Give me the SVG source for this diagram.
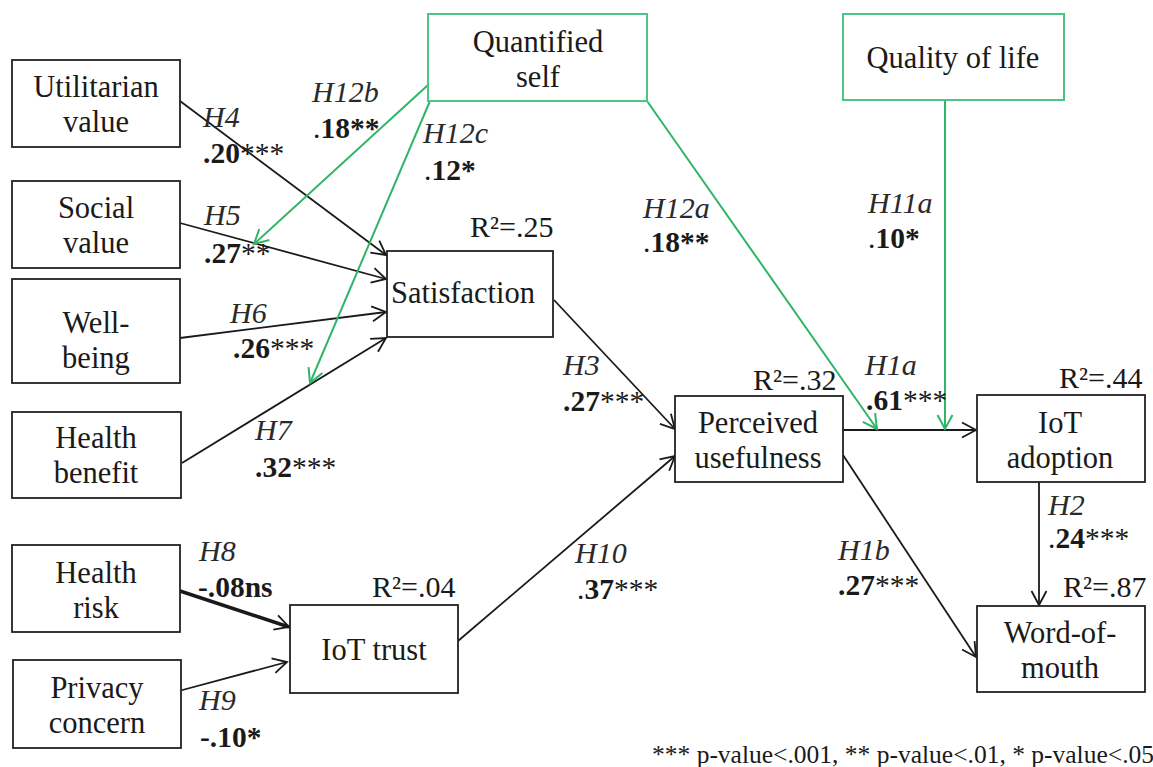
<svg xmlns="http://www.w3.org/2000/svg" width="1153" height="767" viewBox="0 0 1153 767">
  <style>
    .box { fill: #fff; stroke: #222; stroke-width: 1.8; }
    .gbox { fill: #fff; stroke: #4cc684; stroke-width: 2; }
    .node { font-family: "Liberation Serif", "Times New Roman", serif; font-size: 30.5px; fill: #1a1a1a; text-anchor: middle; }
    .r2 { font-family: "Liberation Serif", "Times New Roman", serif; font-size: 30px; fill: #1a1a1a; }
    .hyp { font-family: "Liberation Serif", "Times New Roman", serif; font-size: 30px; font-style: italic; fill: #2a2a2a; }
    .coef { font-family: "Liberation Serif", "Times New Roman", serif; font-size: 29.5px; font-weight: bold; fill: #1a1a1a; }
    .lt { font-weight: normal; }
    .note { font-family: "Liberation Serif", "Times New Roman", serif; font-size: 25.5px; fill: #1a1a1a; }
    .edge { fill: none; stroke: #1a1a1a; stroke-width: 1.8; marker-end: url(#arr); }
    .gedge { fill: none; stroke: #2fb567; stroke-width: 2; marker-end: url(#garr); }
  </style>
  <defs>
    <marker id="arr" markerWidth="18" markerHeight="18" refX="14" refY="8" orient="auto" markerUnits="userSpaceOnUse" overflow="visible">
      <path d="M0,0.5 L14,8 L0,15.5" fill="none" stroke="#1a1a1a" stroke-width="1.8"/>
    </marker>
    <marker id="garr" markerWidth="18" markerHeight="18" refX="14" refY="8" orient="auto" markerUnits="userSpaceOnUse" overflow="visible">
      <path d="M0,0.5 L14,8 L0,15.5" fill="none" stroke="#2fb567" stroke-width="2"/>
    </marker>
  </defs>
  <rect width="1153" height="767" fill="#fff"/>

  <!-- connectors -->
  <g id="connectors">
    <line class="edge" x1="180" y1="101" x2="386" y2="255"/>
    <line class="edge" x1="180" y1="223" x2="386" y2="279"/>
    <line class="edge" x1="180" y1="338" x2="386" y2="312"/>
    <line class="edge" x1="182" y1="463" x2="386" y2="338"/>
    <line class="edge" x1="554" y1="300" x2="675" y2="429"/>
    <line class="edge" x1="458" y1="641" x2="675" y2="456"/>
    <line class="edge" x1="180" y1="591" x2="289" y2="627" style="stroke-width:3.5"/>
    <line class="edge" x1="175" y1="692" x2="287" y2="662"/>
    <line class="edge" x1="843" y1="430" x2="976" y2="430"/>
    <line class="edge" x1="843" y1="455" x2="976" y2="657"/>
    <line class="edge" x1="1039" y1="482" x2="1039" y2="605"/>
    <line class="gedge" x1="428" y1="85" x2="254" y2="244"/>
    <line class="gedge" x1="430" y1="101" x2="310" y2="383"/>
    <line class="gedge" x1="647" y1="101" x2="877" y2="429"/>
    <line class="gedge" x1="945" y1="100" x2="945" y2="429"/>
  </g>

  <!-- nodes -->
  <g id="utilitarian">
    <rect class="box" x="12" y="60" width="168" height="87"/>
    <text class="node" x="96" y="97">Utilitarian</text>
    <text class="node" x="96" y="132">value</text>
  </g>
  <g id="social">
    <rect class="box" x="12" y="181" width="168" height="87"/>
    <text class="node" x="96" y="218">Social</text>
    <text class="node" x="96" y="253">value</text>
  </g>
  <g id="wellbeing">
    <rect class="box" x="12" y="279" width="168" height="104"/>
    <text class="node" x="96" y="333">Well-</text>
    <text class="node" x="96" y="368">being</text>
  </g>
  <g id="health-benefit">
    <rect class="box" x="12" y="412" width="169" height="86"/>
    <text class="node" x="96" y="448">Health</text>
    <text class="node" x="96" y="483">benefit</text>
  </g>
  <g id="health-risk">
    <rect class="box" x="12" y="545" width="168" height="87"/>
    <text class="node" x="96" y="583">Health</text>
    <text class="node" x="96" y="618">risk</text>
  </g>
  <g id="privacy">
    <rect class="box" x="13" y="660" width="168" height="88"/>
    <text class="node" x="97" y="698">Privacy</text>
    <text class="node" x="97" y="733">concern</text>
  </g>
  <g id="iot-trust">
    <rect class="box" x="290" y="605" width="168" height="88"/>
    <text class="node" x="374" y="660">IoT trust</text>
  </g>
  <g id="satisfaction">
    <rect class="box" x="387" y="251" width="166" height="86"/>
    <text class="node" x="463" y="303">Satisfaction</text>
  </g>
  <g id="quantified-self">
    <rect class="gbox" x="428" y="14" width="219" height="87"/>
    <text class="node" x="538" y="52">Quantified</text>
    <text class="node" x="538" y="87">self</text>
  </g>
  <g id="quality-of-life">
    <rect class="gbox" x="843" y="14" width="221" height="86"/>
    <text class="node" x="953" y="68">Quality of life</text>
  </g>
  <g id="perceived-usefulness">
    <rect class="box" x="675" y="396" width="168" height="86"/>
    <text class="node" x="758" y="433">Perceived</text>
    <text class="node" x="758" y="468">usefulness</text>
  </g>
  <g id="iot-adoption">
    <rect class="box" x="977" y="395" width="168" height="87"/>
    <text class="node" x="1060" y="433">IoT</text>
    <text class="node" x="1060" y="468">adoption</text>
  </g>
  <g id="word-of-mouth">
    <rect class="box" x="977" y="606" width="168" height="86"/>
    <text class="node" x="1060" y="643">Word-of-</text>
    <text class="node" x="1060" y="678">mouth</text>
  </g>

  <!-- explained variance -->
  <g id="r-squared">
    <text class="r2" x="470" y="237">R²=.25</text>
    <text class="r2" x="753" y="390">R²=.32</text>
    <text class="r2" x="1059" y="388">R²=.44</text>
    <text class="r2" x="1063" y="597">R²=.87</text>
    <text class="r2" x="372" y="597">R²=.04</text>
  </g>

  <!-- path labels -->
  <g id="labels">
    <text class="hyp" x="203" y="127">H4</text>
    <text class="coef" x="203" y="163">.20<tspan class="lt">***</tspan></text>
    <text class="hyp" x="312" y="102">H12b</text>
    <text class="coef" x="313" y="138"><tspan class="lt">.</tspan>18**</text>
    <text class="hyp" x="423" y="143">H12c</text>
    <text class="coef" x="424" y="180"><tspan class="lt">.</tspan>12*</text>
    <text class="hyp" x="643" y="218">H12a</text>
    <text class="coef" x="643" y="252"><tspan class="lt">.</tspan>18**</text>
    <text class="hyp" x="204" y="225">H5</text>
    <text class="coef" x="204" y="263">.27<tspan class="lt">**</tspan></text>
    <text class="hyp" x="230" y="323">H6</text>
    <text class="coef" x="233" y="358">.26<tspan class="lt">***</tspan></text>
    <text class="hyp" x="255" y="440">H7</text>
    <text class="coef" x="255" y="477">.32<tspan class="lt">***</tspan></text>
    <text class="hyp" x="563" y="375">H3</text>
    <text class="coef" x="563" y="411">.27<tspan class="lt">***</tspan></text>
    <text class="hyp" x="865" y="375">H1a</text>
    <text class="coef" x="866" y="410">.61<tspan class="lt">***</tspan></text>
    <text class="hyp" x="868" y="213">H11a</text>
    <text class="coef" x="868" y="248"><tspan class="lt">.</tspan>10*</text>
    <text class="hyp" x="1048" y="515">H2</text>
    <text class="coef" x="1048" y="548"><tspan class="lt">.</tspan>24<tspan class="lt">***</tspan></text>
    <text class="hyp" x="838" y="560">H1b</text>
    <text class="coef" x="838" y="595">.27<tspan class="lt">***</tspan></text>
    <text class="hyp" x="199" y="561">H8</text>
    <text class="coef" x="198" y="597">-.08ns</text>
    <text class="hyp" x="199" y="710">H9</text>
    <text class="coef" x="200" y="747">-.10*</text>
    <text class="hyp" x="575" y="563">H10</text>
    <text class="coef" x="577" y="599"><tspan class="lt">.</tspan>37<tspan class="lt">***</tspan></text>
  </g>

  <text class="note" x="652" y="763">*** p-value&lt;.001, ** p-value&lt;.01, * p-value&lt;.05</text>
</svg>
